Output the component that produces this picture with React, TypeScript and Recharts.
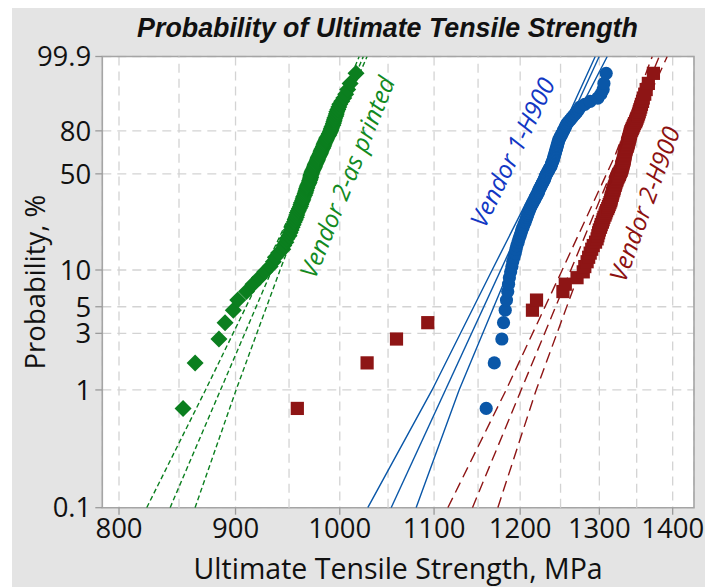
import React from 'react';
import {
  ScatterChart,
  Scatter,
  XAxis,
  YAxis,
  CartesianGrid,
  ReferenceLine,
  ReferenceArea,
} from 'recharts';

// Axis ticks
const PROB_TICKS = [0.1, 1, 3, 5, 10, 50, 80, 99.9];
const MPA_TICKS = [800, 900, 1000, 1100, 1200, 1300, 1400];
const MPA_MINOR = [850, 950, 1050, 1150, 1250, 1350];
const MPA_DOMAIN = [786.6, 1430.5];

// Ultimate tensile strength samples (MPa), sorted
const vendor2AsPrinted = [
  853.5, 864, 885, 890.5, 898, 902, 910, 916, 922, 927,
  932, 935, 937, 940, 944, 945, 947, 948, 950, 951,
  952, 953, 954, 955, 956, 957, 957.5, 958, 959, 960,
  961, 961.5, 962, 963, 963.5, 964, 965, 965.5, 966, 966.5,
  967, 967.5, 968, 969, 969.5, 970, 970.5, 971, 971, 971.5,
  972, 972.5, 973, 974, 974.5, 975, 975.5, 976, 977, 977.5,
  978, 978.5, 979, 980, 980.5, 981, 981.5, 982, 983, 983.5,
  984, 984.5, 985, 986, 986.5, 987, 988, 989, 989.5, 990.5,
  991, 991.5, 992, 993, 993.5, 994, 994.5, 995, 996, 996.5,
  997, 998, 999, 1000, 1002, 1004, 1006, 1008, 1010.5, 1016.5,
];

const vendor1H900 = [
  1159.5, 1169, 1178, 1180, 1182, 1183.5, 1185, 1186, 1187, 1188.5,
  1190, 1191, 1192.5, 1194, 1195, 1196, 1197.5, 1198.5, 1200, 1201,
  1202, 1203.5, 1204.5, 1206, 1207, 1208, 1209, 1210, 1211, 1212,
  1213, 1214.5, 1215.5, 1217, 1218, 1219, 1220.5, 1221.5, 1222.5, 1223,
  1224, 1225, 1226, 1227, 1228, 1229, 1230, 1230.5, 1231, 1232,
  1233, 1234, 1235, 1236, 1237, 1238, 1238.5, 1239, 1240, 1240.5,
  1241, 1241.5, 1242, 1242.5, 1243, 1243.5, 1244, 1244.5, 1245, 1245.5,
  1246, 1246.5, 1247, 1247.5, 1248, 1249, 1250, 1251, 1252, 1253,
  1254, 1255, 1256, 1257, 1258, 1260, 1262, 1264, 1266, 1268.5,
  1271, 1273, 1275, 1281, 1288, 1298, 1302, 1305, 1306, 1309,
];

const vendor2H900 = [
  958, 1028, 1059, 1093, 1215, 1220, 1253, 1256, 1271, 1279,
  1281, 1284, 1286, 1288, 1290, 1292, 1295, 1297, 1298, 1299,
  1300, 1301.5, 1302.5, 1304, 1305, 1306, 1307.5, 1308.5, 1309.5, 1311,
  1312, 1313, 1314, 1315, 1315.5, 1316, 1317, 1317.5, 1318, 1319,
  1319.5, 1320, 1321, 1321.5, 1322, 1323, 1323.5, 1324.5, 1325.5, 1326.5,
  1327, 1328, 1329, 1329.5, 1330, 1330.5, 1331, 1331.5, 1332, 1332.5,
  1333, 1333, 1333.5, 1334, 1334, 1334.5, 1335, 1335.5, 1336, 1337,
  1337.5, 1338, 1338.5, 1339, 1339.5, 1340, 1340.5, 1341, 1341.5, 1342,
  1343, 1344, 1345, 1346, 1347, 1348.5, 1349.5, 1350.5, 1351.5, 1352.5,
  1353.5, 1354.5, 1355.5, 1356.5, 1358, 1359, 1361, 1363, 1366, 1373,
];

// Weibull fits with 95% bounds: [MPa, percent]
const v2PrintedFit = [[842.4, 0.1], [1024.1, 99.9]];
const v2PrintedLo = [[822.7, 0.1], [873.1, 1], [926.2, 10], [978.3, 63.2], [1019.8, 99.9]];
const v2PrintedHi = [[863.9, 0.1], [900.5, 1], [941.4, 10], [984.3, 63.2], [1028.0, 99.9]];

const v1H900Fit = [[1053.3, 0.1], [1299.8, 99.9]];
const v1H900Lo = [[1028.7, 0.1], [1097.8, 1], [1166.5, 10], [1237.0, 63.2], [1294.6, 99.9]];
const v1H900Hi = [[1080.2, 0.1], [1128.2, 1], [1186.7, 10], [1244.5, 63.2], [1310.4, 99.9]];

const v2H900Fit = [[1143.5, 0.1], [1381.1, 99.9]];
const v2H900Lo = [[1115.4, 0.1], [1183.1, 1], [1252.1, 10], [1321.0, 63.2], [1371.4, 99.9]];
const v2H900Hi = [[1173.2, 0.1], [1219.6, 1], [1275.1, 10], [1330.4, 63.2], [1392.3, 99.9]];

// Series labels placed in data space
const seriesNotes = [
  { x: 1007, p: 48, text: 'Vendor 2-as printed', color: '#128a22', angle: -68 },
  { x: 1190, p: 65.5, text: 'Vendor 1-H900', color: '#1237c4', angle: -64 },
  { x: 1360, p: 32, text: 'Vendor 2-H900', color: '#8c1111', angle: -70 },
];

const GREEN = '#0b7f1f';
const BLUE = '#0a57a8';
const RED = '#8e1515';
const SANS = "'Open Sans', sans-serif";

// Weibull probability axis: ln(-ln(1 - p))
const weib = (pct: number) => Math.log(-Math.log(1 - pct / 100));
const Y_MIN = weib(0.1);
const Y_MAX = weib(99.9);

const medianRank = (i: number, n: number) => ((i + 1 - 0.3) / (n + 0.4)) * 100;

const toPoints = (vals: number[]) =>
  vals.map((v, i) => ({ x: v, y: weib(medianRank(i, vals.length)) }));

const toLine = (pts: number[][]) => pts.map(([x, p]) => ({ x, y: weib(p) }));

const probLabel = (v: number) => {
  const idx = PROB_TICKS.findIndex((p) => Math.abs(weib(p) - v) < 1e-6);
  return idx >= 0 ? String(PROB_TICKS[idx]) : '';
};

const Diamond = (props: any) => {
  const { cx, cy } = props;
  const r = 8.5;
  return (
    <polygon
      points={`${cx},${cy - r} ${cx + r},${cy} ${cx},${cy + r} ${cx - r},${cy}`}
      fill={GREEN}
    />
  );
};

const Dot = (props: any) => <circle cx={props.cx} cy={props.cy} r={6.6} fill={BLUE} />;

const Square = (props: any) => (
  <rect x={props.cx - 6.6} y={props.cy - 6.6} width={13.2} height={13.2} fill={RED} />
);

const Nothing = () => <g />;

const Note = (props: any) => {
  const { cx, cy, payload } = props;
  return (
    <text
      x={cx}
      y={cy}
      fill={payload.color}
      fontSize={24.5}
      fontStyle="italic"
      fontFamily={SANS}
      textAnchor="middle"
      dominantBaseline="central"
      transform={`rotate(${payload.angle} ${cx} ${cy})`}
    >
      {payload.text}
    </text>
  );
};

const fitLine = (key: string, pts: number[][], color: string, dash?: string) => (
  <Scatter
    key={key}
    data={toLine(pts)}
    line={{ stroke: color, strokeWidth: 1.4, strokeDasharray: dash }}
    lineType="joint"
    shape={Nothing}
    isAnimationActive={false}
  />
);

export default function App() {
  const gridStroke = '#d3d3d3';
  const tickFont = { fill: '#111', fontSize: 27.5, fontWeight: 500, fontFamily: SANS };
  return (
    <div
      style={{
        position: 'relative',
        width: 713,
        height: 587,
        margin: '-8px 0 0 -8px',
        background: '#ffffff',
        overflow: 'hidden',
      }}
    >
      <div
        style={{
          position: 'absolute',
          left: 12,
          top: 6,
          width: 701,
          height: 581,
          background: '#e4e4e4',
        }}
      />
      <div
        style={{
          position: 'absolute',
          left: 0,
          top: 13,
          width: 775,
          textAlign: 'center',
          fontFamily: "'Liberation Sans', Arial, sans-serif",
          fontWeight: 'bold',
          fontStyle: 'italic',
          fontSize: 26.8,
          lineHeight: '30px',
          color: '#111',
        }}
      >
        Probability of Ultimate Tensile Strength
      </div>
      <div style={{ position: 'absolute', left: 0, top: 0 }}>
        <ScatterChart
          width={713}
          height={587}
          margin={{ top: 56.5, right: 19, bottom: 0, left: 0 }}
          style={{ fontFamily: SANS }}
        >
          <CartesianGrid
            strokeDasharray="9 6"
            stroke={gridStroke}
            strokeWidth={1.3}
            fill="#ffffff"
          />
          {MPA_MINOR.map((m) => (
            <ReferenceLine
              key={m}
              x={m}
              stroke={gridStroke}
              strokeWidth={1.3}
              strokeDasharray="9 6"
            />
          ))}
          <XAxis
            type="number"
            dataKey="x"
            scale="log"
            domain={MPA_DOMAIN}
            ticks={MPA_TICKS}
            interval={0}
            allowDataOverflow
            height={79.3}
            axisLine={false}
            tickLine={{ stroke: '#9a9a9a', strokeWidth: 1.3 }}
            tickSize={7}
            tickMargin={4}
            tick={tickFont}
            label={{
              value: 'Ultimate Tensile Strength, MPa',
              position: 'insideBottom',
              offset: 8,
              fill: '#111',
              fontSize: 28.5,
              fontWeight: 500,
            }}
          />
          <YAxis
            type="number"
            dataKey="y"
            domain={[Y_MIN, Y_MAX]}
            ticks={PROB_TICKS.map(weib)}
            interval={0}
            tickFormatter={probLabel}
            allowDataOverflow
            width={102.3}
            axisLine={false}
            tickLine={{ stroke: '#9a9a9a', strokeWidth: 1.3 }}
            tickSize={7}
            tickMargin={4}
            tick={tickFont}
            label={{
              value: 'Probability, %',
              angle: -90,
              position: 'insideLeft',
              offset: 35,
              fill: '#111',
              fontSize: 27.5,
              fontWeight: 500,
              style: { textAnchor: 'middle' },
            }}
          />
          <ReferenceArea
            x1={MPA_DOMAIN[0]}
            x2={MPA_DOMAIN[1]}
            y1={Y_MIN}
            y2={Y_MAX}
            fill="none"
            stroke="#a5a5a5"
            strokeWidth={1.6}
            ifOverflow="visible"
          />
          {fitLine('gf', v2PrintedFit, GREEN, '5 3')}
          {fitLine('gl', v2PrintedLo, GREEN, '5 3')}
          {fitLine('gh', v2PrintedHi, GREEN, '5 3')}
          {fitLine('bf', v1H900Fit, BLUE)}
          {fitLine('bl', v1H900Lo, BLUE)}
          {fitLine('bh', v1H900Hi, BLUE)}
          {fitLine('rf', v2H900Fit, RED, '11 6')}
          {fitLine('rl', v2H900Lo, RED, '11 6')}
          {fitLine('rh', v2H900Hi, RED, '11 6')}
          <Scatter
            data={toPoints(vendor2AsPrinted)}
            shape={Diamond}
            isAnimationActive={false}
          />
          <Scatter data={toPoints(vendor1H900)} shape={Dot} isAnimationActive={false} />
          <Scatter data={toPoints(vendor2H900)} shape={Square} isAnimationActive={false} />
          <Scatter
            data={seriesNotes.map((n) => ({ ...n, y: weib(n.p) }))}
            shape={Note}
            isAnimationActive={false}
          />
        </ScatterChart>
      </div>
    </div>
  );
}
